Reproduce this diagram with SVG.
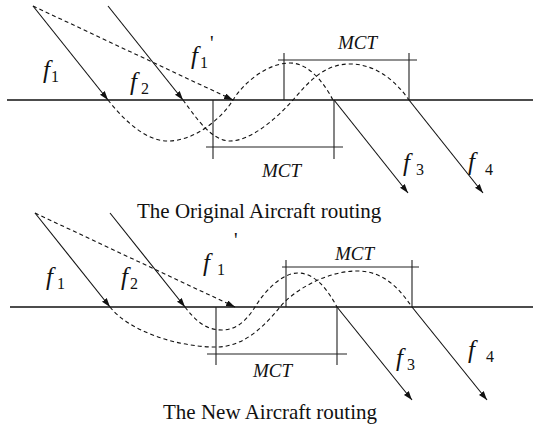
<svg xmlns="http://www.w3.org/2000/svg" width="533" height="427" viewBox="0 0 533 427">
<style>
.ln{stroke:#111;stroke-width:1.1;fill:none}
.base{stroke:#111;stroke-width:1.3;fill:none}
.dash{stroke:#111;stroke-width:1.1;fill:none;stroke-dasharray:4 3}
.mct{stroke:#222;stroke-width:1.1;fill:none}
.f{font-family:"Liberation Serif","Times New Roman",serif;font-style:italic;font-size:25px;fill:#111}
.s{font-family:"Liberation Serif","Times New Roman",serif;font-size:16px;fill:#111}
.p{font-family:"Liberation Serif","Times New Roman",serif;font-size:20px;fill:#111}
.m{font-family:"Liberation Serif","Times New Roman",serif;font-style:italic;font-size:19px;fill:#111}
.cap{font-family:"Liberation Serif","Times New Roman",serif;font-size:21px;fill:#111}
</style>
<defs>
<marker id="ah" markerUnits="userSpaceOnUse" markerWidth="10" markerHeight="8" refX="9" refY="3" orient="auto">
<path d="M0,0 L9,3 L0,6 Z" fill="#111"/>
</marker>
</defs>

<g id="original">
<g id="orig-connectors">
<path class="base" d="M7,100 H533"/>
<path class="ln" d="M33,6 L108,100" marker-end="url(#ah)"/>
<path class="ln" d="M108,6 L183,100" marker-end="url(#ah)"/>
<path class="dash" d="M33,6 L233,100" marker-end="url(#ah)"/>
<path class="ln" d="M334,100 L408,193" marker-end="url(#ah)"/>
<path class="ln" d="M409,100 L483,193" marker-end="url(#ah)"/>
<path class="dash" d="M108,100 C123,119 145,141 168,141 C195,141 222,118 233,100 C244,82 268,63 290,63 C310,63 325,85 333,100"/>
<path class="dash" d="M183,100 C193,113 210,141 230,141 C250,141 275,120 293,100 C310,80 325,64 350,64 C375,64 395,80 409,100"/>
<path class="mct" d="M213,100 V159 M334,100 V159 M206,147 H343"/>
<path class="mct" d="M284,53 V100 M409,53 V100 M278,60 H417"/>
</g>
<g id="orig-labels">
<text class="f" x="43" y="78">f</text><text class="s" x="51" y="82">1</text>
<text class="f" x="130" y="90">f</text><text class="s" x="141" y="94">2</text>
<text class="f" x="191" y="64">f</text><text class="s" x="200" y="68">1</text><text class="p" x="210" y="50">'</text>
<text class="f" x="403" y="171">f</text><text class="s" x="416" y="175">3</text>
<text class="f" x="468" y="170">f</text><text class="s" x="485" y="175">4</text>
<text class="m" x="338" y="49">MCT</text>
<text class="m" x="262" y="177">MCT</text>
<text class="cap" x="137" y="218">The Original Aircraft routing</text>
</g>
</g>

<g id="new">
<g id="new-connectors">
<path class="base" d="M10,307 H533"/>
<path class="ln" d="M35,213 L110,307" marker-end="url(#ah)"/>
<path class="ln" d="M110,213 L185,307" marker-end="url(#ah)"/>
<path class="dash" d="M35,213 L235,307" marker-end="url(#ah)"/>
<path class="ln" d="M337,307 L412,400" marker-end="url(#ah)"/>
<path class="ln" d="M412,307 L487,400" marker-end="url(#ah)"/>
<path class="dash" d="M110,307 C128,330 175,347 216,347 C245,347 265,325 280,307 C292,292 325,271 357,271 C385,271 400,290 412,307"/>
<path class="dash" d="M185,307 C195,320 205,330 222,330 C238,330 248,318 255,307 C266,289 283,273 298,273 C315,273 328,290 337,307"/>
<path class="mct" d="M216,307 V365 M337,307 V365 M207,354 H347"/>
<path class="mct" d="M286,260 V307 M412,260 V307 M282,267 H419"/>
</g>
<g id="new-labels">
<text class="f" x="46" y="285">f</text><text class="s" x="57" y="289">1</text>
<text class="f" x="121" y="285">f</text><text class="s" x="130" y="289">2</text>
<text class="f" x="203" y="271">f</text><text class="s" x="217" y="275">1</text><text class="p" x="234" y="247">'</text>
<text class="f" x="396" y="366">f</text><text class="s" x="407" y="370">3</text>
<text class="f" x="468" y="358">f</text><text class="s" x="486" y="362">4</text>
<text class="m" x="335" y="260">MCT</text>
<text class="m" x="253" y="377">MCT</text>
<text class="cap" x="163" y="419">The New Aircraft routing</text>
</g>
</g>
</svg>
